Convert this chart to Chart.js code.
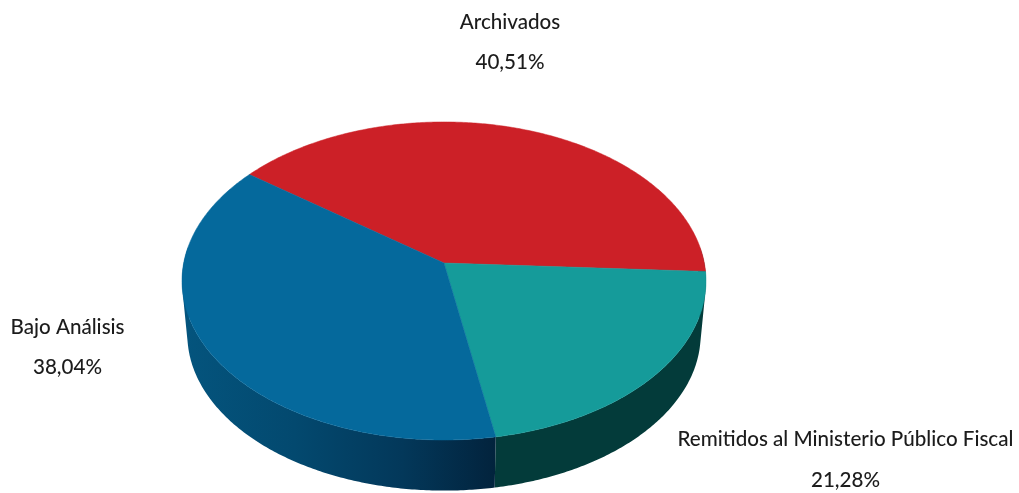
<!DOCTYPE html>
<html>
<head>
<meta charset="utf-8">
<style>
    html, body { margin: 0; padding: 0; background: #fff; }
    canvas { display: block; }
</style>
<script src="https://cdn.jsdelivr.net/npm/chart.js@4"></script>
</head>
<body>
<canvas id="chart" width="1019" height="493"></canvas>
<script>
const categories = ["Archivados", "Remitidos al Ministerio Público Fiscal", "Bajo Análisis"];
const percentages = [40.51, 21.28, 38.04];
const percentLabels = ["40,51%", "21,28%", "38,04%"];

const topColors = ["#cc2027", "#159b9a", "#05699c"];
const labelAnchors = [[510, 22, 62], [845.5, 439, 480], [67.5, 327, 367]];

// the pie is tilted, so the hub sits above the middle of the ellipse
const top3d = { cx: 444, cy: 263, rx: 260.3, ry: 157 };
const bottom3d = { cx: 444, cy: 317, rx: 255, ry: 154 };
const tilt = 0.113;

function project(view, angle) {
    const w = 1 - tilt * Math.sin(angle);
    return [
        view.cx + view.rx * Math.cos(angle) / w,
        view.cy + view.ry * Math.sin(angle) / w
    ];
}

function arcPoints(view, start, end) {
    const pts = [];
    const steps = Math.ceil((end - start) / 0.01);
    for (let i = 0; i <= steps; i++) {
        pts.push(project(view, start + (end - start) * i / steps));
    }
    return pts;
}

function wallStyle(ctx, index) {
    if (index === 2) {
        const g = ctx.createLinearGradient(186, 0, 495, 0);
        g.addColorStop(0, "#04547d");
        g.addColorStop(0.35, "#03496f");
        g.addColorStop(0.7, "#03385a");
        g.addColorStop(1, "#02233d");
        return g;
    }
    return "#033b3a";
}

// adds a quad to the path, always wound the same way so overlaps stay filled
function addQuad(ctx, a, b, c, d) {
    const pts = [a, b, c, d];
    let area = 0;
    pts.forEach((p, i) => {
        const q = pts[(i + 1) % 4];
        area += p[0] * q[1] - q[0] * p[1];
    });
    if (area < 0) pts.reverse();
    pts.forEach((p, i) => i ? ctx.lineTo(p[0], p[1]) : ctx.moveTo(p[0], p[1]));
    ctx.closePath();
}

const pie3d = {
    id: "pie3d",
    beforeDatasetsDraw(chart) {
        const ctx = chart.ctx;
        const arcs = chart.getDatasetMeta(0).data;

        // side walls, only the front half can be seen
        arcs.forEach((arc, i) => {
            const upper = arcPoints(top3d, arc.startAngle, arc.endAngle);
            const lower = arcPoints(bottom3d, arc.startAngle, arc.endAngle);
            const steps = upper.length - 1;
            ctx.beginPath();
            for (let s = 0; s < steps; s++) {
                const a = arc.startAngle + (arc.endAngle - arc.startAngle) * s / steps;
                if (Math.sin(a) < -0.1) continue;
                addQuad(ctx, upper[s], upper[s + 1], lower[s + 1], lower[s]);
            }
            ctx.fillStyle = wallStyle(ctx, i);
            ctx.fill();
        });

        // top face
        arcs.forEach((arc, i) => {
            ctx.beginPath();
            ctx.moveTo(top3d.cx, top3d.cy);
            arcPoints(top3d, arc.startAngle, arc.endAngle).forEach(p => ctx.lineTo(p[0], p[1]));
            ctx.closePath();
            ctx.fillStyle = topColors[i];
            ctx.strokeStyle = topColors[i];
            ctx.lineWidth = 0.5;
            ctx.fill();
            ctx.stroke();
        });
        return false;
    },
    afterDraw(chart) {
        const ctx = chart.ctx;
        ctx.save();
        ctx.font = "500 20.6px Lato";
        ctx.fillStyle = "#1c1c1c";
        ctx.textAlign = "center";
        ctx.textBaseline = "middle";
        categories.forEach((name, i) => {
            const [x, y1, y2] = labelAnchors[i];
            ctx.fillText(name, x, y1);
            ctx.fillText(percentLabels[i], x, y2);
        });
        ctx.restore();
    }
};

new Chart(document.getElementById("chart"), {
    type: "pie",
    data: {
        labels: categories,
        datasets: [{
            data: percentages,
            backgroundColor: topColors,
            borderWidth: 0
        }]
    },
    options: {
        responsive: false,
        animation: false,
        rotation: 307,
        plugins: {
            legend: { display: false },
            tooltip: { enabled: false }
        }
    },
    plugins: [pie3d]
});
</script>
</body>
</html>
